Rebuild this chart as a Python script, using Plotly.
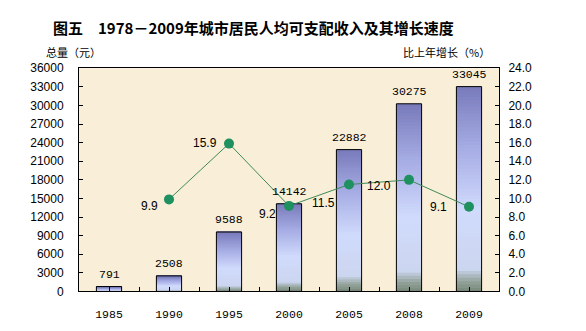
import plotly.graph_objects as go

# Urban per-capita disposable income (yuan) and year-on-year growth (%)
years = ["1985", "1990", "1995", "2000", "2005", "2008", "2009"]
income = [791, 2508, 9588, 14142, 22882, 30275, 33045]
growth = [None, 9.9, 15.9, 9.2, 11.5, 12.0, 9.1]

left_ticks = list(range(0, 36001, 3000))
right_ticks = [i * 2.0 for i in range(13)]

pos = list(range(len(years)))  # slot index of each year on the x axis

BAR_W = 0.42
N_SEG = 60

# vertical gradient stops for the bars: (fraction from bottom, rgb)
stops = [
    (0.00, (120, 136, 122)),
    (0.05, (148, 164, 156)),
    (0.11, (204, 214, 240)),
    (0.40, (208, 218, 252)),
    (0.70, (166, 172, 228)),
    (1.00, (120, 122, 186)),
]


def grad(t):
    for (t0, c0), (t1, c1) in zip(stops[:-1], stops[1:]):
        if t0 <= t <= t1:
            f = (t - t0) / (t1 - t0)
            c = [round(a + (b - a) * f) for a, b in zip(c0, c1)]
            return "rgb(%d,%d,%d)" % tuple(c)
    return "rgb(%d,%d,%d)" % stops[-1][1]


seg_x, seg_base, seg_h, seg_col = [], [], [], []
for p, v in zip(pos, income):
    step = v / N_SEG
    for i in range(N_SEG):
        b = step * i
        seg_x.append(p)
        seg_base.append(b)
        seg_h.append(min(step * 1.6, v - b))
        seg_col.append(grad((i + 0.5) / N_SEG))

fig = go.Figure()

# gradient-filled bars, built from stacked slices
fig.add_trace(go.Bar(
    x=seg_x, y=seg_h, base=seg_base, width=BAR_W,
    marker=dict(color=seg_col, line=dict(width=0)),
    hoverinfo="skip", showlegend=False,
))

# bar outlines
fig.add_trace(go.Bar(
    x=pos, y=income, width=BAR_W,
    marker=dict(color="rgba(0,0,0,0)", line=dict(color="black", width=1)),
    showlegend=False,
))

# growth rate line
fig.add_trace(go.Scatter(
    x=pos, y=growth, yaxis="y2", mode="lines+markers",
    line=dict(color="#3f8a5a", width=1),
    marker=dict(color="#1f9060", size=10),
    connectgaps=False, showlegend=False,
))

annotations = []
for p, v in zip(pos, income):
    annotations.append(dict(
        x=p, y=v, xref="x", yref="y", text=str(v), showarrow=False,
        yanchor="bottom", yshift=4,
        font=dict(family="Liberation Mono, monospace", size=11.5, color="black"),
    ))

# growth labels sit to the left of each point
offsets = {
    "1990": (-9, -7),
    "1995": (-10, 1),
    "2000": (-11, -8),
    "2005": (-12, -18),
    "2008": (-16, -6),
    "2009": (-20, 0),
}
for p, yr, g in zip(pos, years, growth):
    if g is None:
        continue
    dx, dy = offsets[yr]
    annotations.append(dict(
        x=p, y=g, xref="x", yref="y2", text="%.1f" % g, showarrow=False,
        xanchor="right", yanchor="middle", xshift=dx, yshift=dy,
        font=dict(family="Liberation Sans, Arial", size=12, color="black"),
    ))

annotations += [
    dict(x=253 / 586, y=1 - 21 / 331, xref="paper", yref="paper",
         text="<b>图五　1978－2009年城市居民人均可支配收入及其增长速度</b>",
         showarrow=False, xanchor="center", yanchor="middle",
         font=dict(family="Noto Sans CJK SC", size=15, color="black")),
    dict(x=44 / 586, y=1 - 47 / 331, xref="paper", yref="paper",
         text="总量（元）", showarrow=False, xanchor="left", yanchor="middle",
         font=dict(family="Noto Sans CJK SC", size=11, color="black")),
    dict(x=492 / 586, y=1 - 47 / 331, xref="paper", yref="paper",
         text="比上年增长（%）", showarrow=False, xanchor="right", yanchor="middle",
         font=dict(family="Noto Sans CJK SC", size=11, color="black")),
]

tick_font = dict(family="Liberation Sans, Arial", size=12, color="black")
x0, x1 = 79 / 586, 499 / 586
y0, y1 = 1 - 297 / 331, 1 - 64 / 331

fig.update_layout(
    width=586, height=331,
    margin=dict(l=0, r=0, t=0, b=0),
    paper_bgcolor="white",
    plot_bgcolor="#f9eed7",
    barmode="overlay",
    annotations=annotations,
    xaxis=dict(
        domain=[x0, x1], anchor="y", range=[-0.5, len(years) - 0.5],
        tickvals=pos, ticktext=years,
        ticks="inside", ticklen=4, tickcolor="black",
        minor=dict(tickvals=[p + 0.5 for p in pos[:-1]], ticks="inside",
                   ticklen=4, tickcolor="black", showgrid=False),
        showline=True, linecolor="black", linewidth=1, mirror=True,
        showgrid=False, zeroline=False,
        tickfont=dict(family="Liberation Mono, monospace", size=11.5, color="black"),
        ticklabelstandoff=12,
    ),
    yaxis=dict(
        domain=[y0, y1], range=[0, 36000], tickvals=left_ticks,
        ticktext=[str(t) for t in left_ticks],
        ticks="inside", ticklen=4, tickcolor="black",
        showline=True, linecolor="black", linewidth=1,
        showgrid=False, zeroline=False, tickfont=tick_font,
        ticklabelstandoff=12,
    ),
    yaxis2=dict(
        overlaying="y", side="right", anchor="x", range=[0, 24],
        tickvals=right_ticks, ticktext=["%.1f" % t for t in right_ticks],
        ticks="inside", ticklen=4, tickcolor="black",
        showline=True, linecolor="black", linewidth=1,
        showgrid=False, zeroline=False, tickfont=tick_font,
        ticklabelstandoff=6,
    ),
)

fig.write_html("out.html")
